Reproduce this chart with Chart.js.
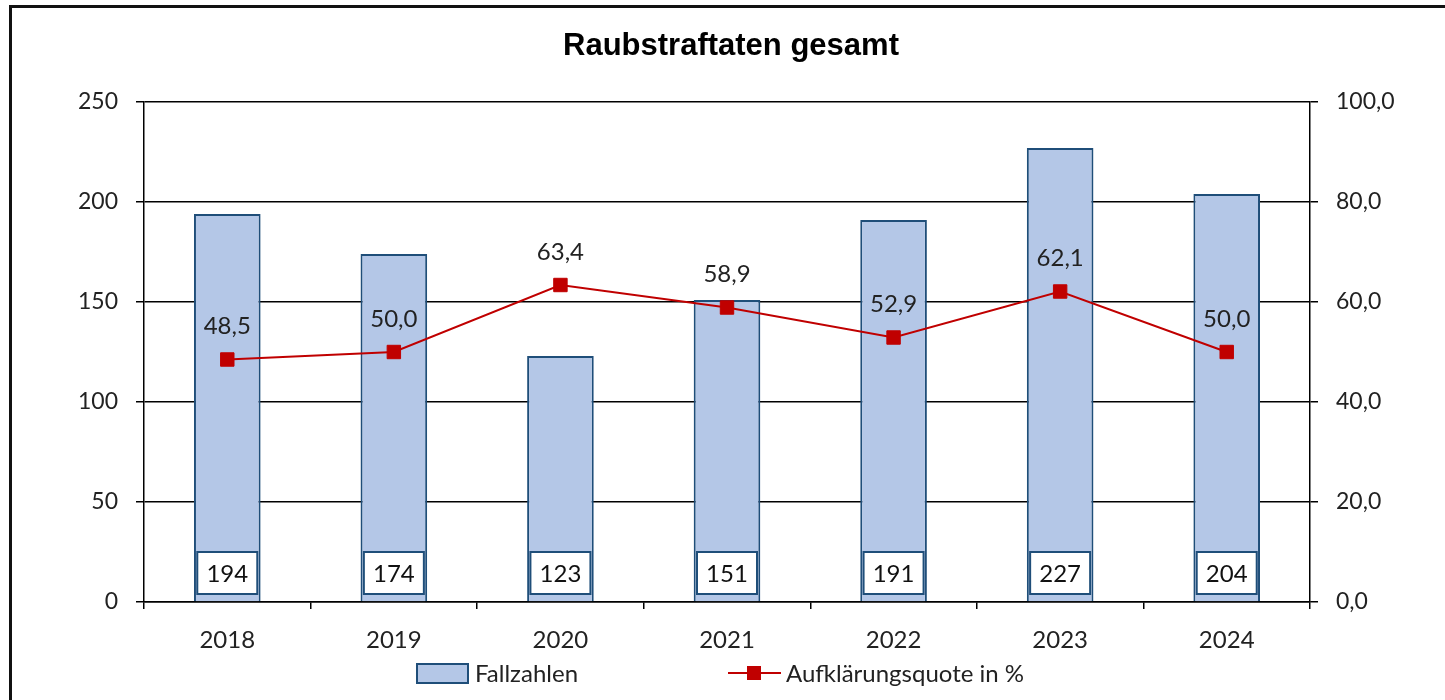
<!DOCTYPE html>
<html>
<head>
<meta charset="utf-8">
<script src="https://cdn.jsdelivr.net/npm/chart.js@4/dist/chart.umd.min.js"></script>
<style>
  html, body { margin: 0; padding: 0; background: #fff; overflow: hidden; }
  #frame { position: absolute; left: 9px; top: 5px; width: 2000px; height: 2000px;
           border-left: 3px solid #111; border-top: 3px solid #111; }
  #myChart { position: absolute; left: 0; top: 0; }
</style>
</head>
<body>
<div id="frame"></div>
<canvas id="myChart" width="1445" height="700"></canvas>
<script>
const years = ['2018', '2019', '2020', '2021', '2022', '2023', '2024']
const fallzahlen = [194, 174, 123, 151, 191, 227, 204]
const quote = [48.5, 50.0, 63.4, 58.9, 52.9, 62.1, 50.0]

const FONT = 'Lato, "Open Sans", sans-serif'
const barFill = '#b4c7e7'
const barLine = '#1f4e79'
const red = '#c00000'

const fmt = v => v.toFixed(1).replace('.', ',')

// title, value labels and legend are drawn by hand
const extras = {
    id: 'extras',
    afterDatasetsDraw(chart) {
        const ctx = chart.ctx
        const area = chart.chartArea
        ctx.save()

        // boxes with case numbers at bar bottom
        const bars = chart.getDatasetMeta(0).data
        ctx.font = '24px ' + FONT
        ctx.textAlign = 'center'
        ctx.textBaseline = 'middle'
        bars.forEach((bar, i) => {
            const w = 60, h = 42
            const cy = area.bottom - 29
            ctx.fillStyle = '#fff'
            ctx.fillRect(bar.x - w / 2, cy - h / 2, w, h)
            ctx.strokeStyle = barLine
            ctx.lineWidth = 2
            ctx.strokeRect(bar.x - w / 2, cy - h / 2, w, h)
            ctx.fillStyle = '#111'
            ctx.fillText(String(fallzahlen[i]), bar.x, cy + 1)
        })

        // percentages above line points
        const pts = chart.getDatasetMeta(1).data
        ctx.font = '24px ' + FONT
        ctx.fillStyle = '#222'
        pts.forEach((p, i) => {
            ctx.fillText(fmt(quote[i]), p.x, p.y - 33)
        })
        ctx.restore()
    },
    afterDraw(chart) {
        const ctx = chart.ctx
        ctx.save()
        ctx.fillStyle = '#000'
        ctx.font = 'bold 31px "Liberation Sans", Arial, sans-serif'
        ctx.textAlign = 'center'
        ctx.textBaseline = 'alphabetic'
        ctx.fillText('Raubstraftaten gesamt', 731, 55)

        // legend
        const ly = 673
        ctx.fillStyle = barFill
        ctx.fillRect(417, ly - 9, 51, 19)
        ctx.strokeStyle = barLine
        ctx.lineWidth = 2
        ctx.strokeRect(417, ly - 9, 51, 19)
        ctx.font = '24px ' + FONT
        ctx.textAlign = 'left'
        ctx.textBaseline = 'middle'
        ctx.fillStyle = '#222'
        ctx.fillText('Fallzahlen', 475, ly + 1)

        ctx.strokeStyle = red
        ctx.beginPath()
        ctx.moveTo(728, ly)
        ctx.lineTo(781, ly)
        ctx.stroke()
        ctx.fillStyle = red
        ctx.fillRect(747, ly - 7, 14, 14)
        ctx.fillStyle = '#222'
        ctx.fillText('Aufklärungsquote in %', 786, ly + 1)
        ctx.restore()
    }
}

const ctx = document.getElementById('myChart').getContext('2d')
const myChart = new Chart(ctx, {
    data: {
        labels: years,
        datasets: [{
            type: 'bar',
            label: 'Fallzahlen',
            data: fallzahlen,
            yAxisID: 'y',
            backgroundColor: barFill,
            borderColor: barLine,
            borderWidth: 2,
            barPercentage: 0.4,
            categoryPercentage: 1,
            order: 2
        }, {
            type: 'line',
            label: 'Aufklärungsquote in %',
            data: quote,
            yAxisID: 'y1',
            borderColor: red,
            borderWidth: 2,
            pointStyle: 'rect',
            pointRadius: 9.5,
            pointBackgroundColor: red,
            pointBorderColor: red,
            pointBorderWidth: 1,
            order: 1
        }]
    },
    options: {
        responsive: false,
        devicePixelRatio: 1,
        animation: false,
        layout: { padding: { top: 102, left: 0, right: 0, bottom: 0 } },
        plugins: {
            legend: { display: false },
            title: { display: false },
            tooltip: { enabled: false }
        },
        scales: {
            x: {
                afterFit: s => { s.height = 98 },
                grid: { offset: true, drawOnChartArea: false, color: '#000', lineWidth: 1.5, tickLength: 7 },
                border: { color: '#000', width: 1.5 },
                ticks: { color: '#222', font: { family: FONT, size: 24 }, padding: 17 }
            },
            y: {
                position: 'left',
                min: 0,
                max: 250,
                afterFit: s => { s.width = 144 },
                grid: { color: '#000', lineWidth: 1.5, tickLength: 8 },
                border: { color: '#000', width: 1.5 },
                ticks: { stepSize: 50, color: '#222', font: { family: FONT, size: 23 }, padding: 18 }
            },
            y1: {
                position: 'right',
                min: 0,
                max: 100,
                afterFit: s => { s.width = 135 },
                grid: { drawOnChartArea: false, color: '#000', lineWidth: 1.5, tickLength: 8 },
                border: { color: '#000', width: 1.5 },
                ticks: { stepSize: 20, color: '#222', font: { family: FONT, size: 23 }, padding: 18,
                    callback: v => fmt(v) }
            }
        }
    },
    plugins: [extras]
})
</script>
</body>
</html>
